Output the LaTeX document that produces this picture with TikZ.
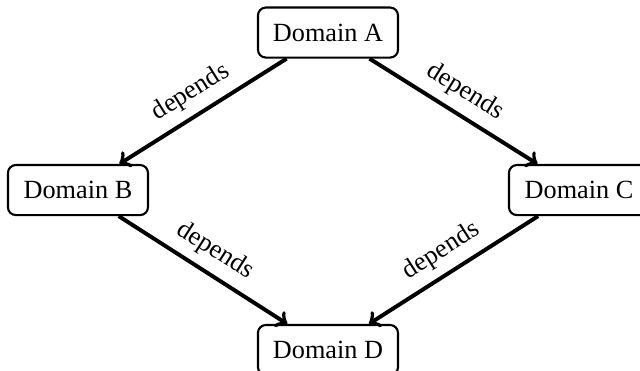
\documentclass[tikz,border=0pt]{standalone}
\usepackage{fontspec}
\setmainfont{Liberation Serif}
\usepackage{tikz}

\begin{document}
\begin{tikzpicture}
\tikzset{domainbox/.style={draw, thick, rounded corners=3pt, minimum width=1.875cm, minimum height=0.67cm}}
\useasboundingbox (0,0) rectangle (8.57,4.955);
\node[domainbox] (dA) at (4.392,4.519) {Domain A};
\node[domainbox] (dB) at (1.044,2.410) {Domain B};
\node[domainbox] (dC) at (7.753,2.410) {Domain C};
\node[domainbox] (dD) at (4.392,0.268) {Domain D};
\draw[->, line width=1.5pt] (dA)--(dB) node[midway, sloped, above] {depends};
\draw[->, line width=1.5pt] (dA)--(dC) node[midway, sloped, above] {depends};
\draw[->, line width=1.5pt] (dB)--(dD) node[midway, sloped, above] {depends};
\draw[->, line width=1.5pt] (dC)--(dD) node[midway, sloped, above] {depends};
\end{tikzpicture}
\end{document}
